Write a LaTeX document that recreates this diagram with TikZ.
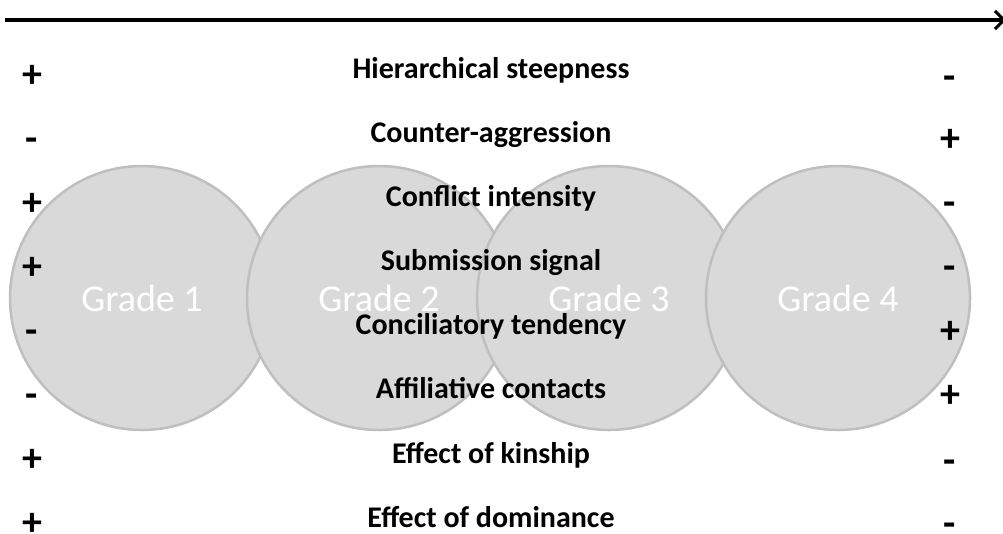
\documentclass[tikz,border=0pt]{standalone}
\usepackage{fontspec}
\setmainfont{Carlito}
\usepackage{tikz}
\usetikzlibrary{arrows.meta}
\definecolor{gradefill}{HTML}{D9D9D9}
\definecolor{gradeline}{HTML}{BFBFBF}
\tikzset{
  grade/.style={circle, minimum size=264pt, inner sep=0pt, fill=gradefill, draw=gradeline, line width=2.5pt,
    text=white, font=\fontsize{38}{42}\selectfont},
  trait/.style={font=\fontsize{30}{34}\selectfont\bfseries, anchor=base},
  sign/.style={font=\fontsize{40}{44}\selectfont\bfseries, anchor=base}
}
\begin{document}
\begin{tikzpicture}[x=1pt,y=-1pt]
            \useasboundingbox (0,0) rectangle (1003,533);
            \coordinate (start) at (5,20);
            \coordinate (end) at (1006,20);
            \draw[line width=4pt, -{Straight Barb[length=9pt,width=18pt,line width=3pt]}] (start) -- (end);

            \node[grade] (g1) at (142,298) {Grade 1};
            \node[grade] (g2) at (379,298) {Grade 2};
            \node[grade] (g3) at (609,298) {Grade 3};
            \node[grade] (g4) at (838,298) {Grade 4};

            \node[trait] (steep) at (491,78) {Hierarchical steepness};
            \node[trait] (counter) at (491,142) {Counter-aggression};
            \node[trait] (intens) at (491,206) {Conflict intensity};
            \node[trait] (submis) at (491,270) {Submission signal};
            \node[trait] (concil) at (491,334) {Conciliatory tendency};
            \node[trait] (affil) at (491,398) {Affiliative contacts};
            \node[trait] (kin) at (491,463) {Effect of kinship};
            \node[trait] (domin) at (491,527) {Effect of dominance};

            \node[sign] (l1) at (32,87) {+};
            \node[sign] (l2) at (32,151) {-};
            \node[sign] (l3) at (32,215) {+};
            \node[sign] (l4) at (32,279) {+};
            \node[sign] (l5) at (32,343) {-};
            \node[sign] (l6) at (32,407) {-};
            \node[sign] (l7) at (32,471) {+};
            \node[sign] (l8) at (32,535) {+};

            \node[sign] (r1) at (950,89) {-};
            \node[sign] (r2) at (950,151) {+};
            \node[sign] (r3) at (950,215) {-};
            \node[sign] (r4) at (950,279) {-};
            \node[sign] (r5) at (950,343) {+};
            \node[sign] (r6) at (950,407) {+};
            \node[sign] (r7) at (950,473) {-};
            \node[sign] (r8) at (950,536) {-};
\end{tikzpicture}
\end{document}
